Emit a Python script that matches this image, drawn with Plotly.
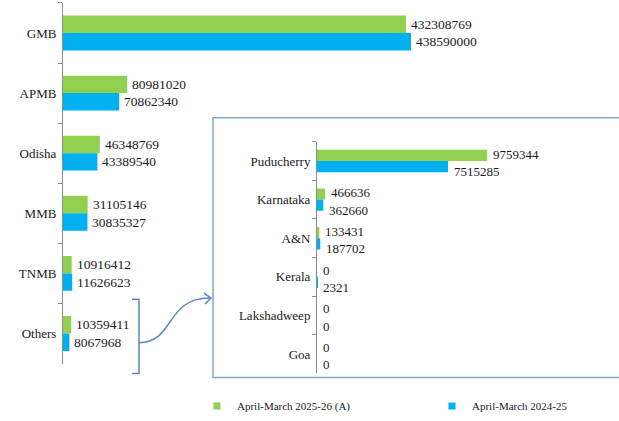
import plotly.graph_objects as go

# main chart data
ports = ["GMB", "APMB", "Odisha", "MMB", "TNMB", "Others"]
cur_year = [432308769, 80981020, 46348769, 31105146, 10916412, 10359411]
prev_year = [438590000, 70862340, 43389540, 30835327, 11626623, 8067968]

# breakdown of "Others"
others = ["Puducherry", "Karnataka", "A&N", "Kerala", "Lakshadweep", "Goa"]
others_cur = [9759344, 466636, 133431, 0, 0, 0]
others_prev = [7515285, 362660, 187702, 2321, 0, 0]

series_names = ["April-March 2025-26 (A)", "April-March 2024-25"]
GREEN = "#92D050"
BLUE = "#00B0F0"
FONT = "Liberation Serif, Times New Roman, Times, serif"
TXT = "#1a1a1a"

W, H = 619, 421
BARGAP = 0.42
# centre of each bar inside its category (two bars per group)
OFF = (1 - BARGAP) / 4


def px(x):
    return x / W


def py(y):
    return 1 - y / H


fig = go.Figure()

# main bars
fig.add_trace(go.Bar(
    y=ports, x=cur_year, orientation="h", name=series_names[0],
    marker=dict(color=GREEN, line=dict(width=0)), showlegend=False,
    xaxis="x", yaxis="y",
))
fig.add_trace(go.Bar(
    y=ports, x=prev_year, orientation="h", name=series_names[1],
    marker=dict(color=BLUE, line=dict(width=0)), showlegend=False,
    xaxis="x", yaxis="y",
))

# inset bars
fig.add_trace(go.Bar(
    y=others, x=others_cur, orientation="h", name=series_names[0],
    marker=dict(color=GREEN, line=dict(width=0)), showlegend=False,
    xaxis="x2", yaxis="y2",
))
fig.add_trace(go.Bar(
    y=others, x=others_prev, orientation="h", name=series_names[1],
    marker=dict(color=BLUE, line=dict(width=0)), showlegend=False,
    xaxis="x2", yaxis="y2",
))

# legend entries with small square keys
for name, color, leg in ((series_names[0], GREEN, "legend"),
                         (series_names[1], BLUE, "legend2")):
    fig.add_trace(go.Scatter(
        x=[None], y=[None], mode="markers", name=name, legend=leg,
        marker=dict(symbol="square", size=7, color=color),
        xaxis="x", yaxis="y",
    ))

# data labels
for i, (a, b) in enumerate(zip(cur_year, prev_year)):
    for v, off in ((a, -OFF), (b, OFF)):
        fig.add_annotation(x=v, y=i + off, xref="x", yref="y", text=str(v),
                           xanchor="left", yanchor="middle", showarrow=False,
                           xshift=3, font=dict(family=FONT, size=13.5, color=TXT))
for i, (a, b) in enumerate(zip(others_cur, others_prev)):
    for v, off, ys in ((a, -OFF, 1), (b, OFF, -5)):
        fig.add_annotation(x=v, y=i + off, xref="x2", yref="y2", text=str(v),
                           xanchor="left", yanchor="middle", showarrow=False,
                           xshift=4, yshift=ys,
                           font=dict(family=FONT, size=13, color=TXT))

axis_common = dict(
    showline=True, linecolor="#8c8c8c", linewidth=1,
    ticks="outside", ticklen=4, tickcolor="#8c8c8c",
    tickson="boundaries", showgrid=False, autorange="reversed",
    automargin=False, ticklabelstandoff=3,
    tickfont=dict(family=FONT, size=13, color=TXT),
)

legend_common = dict(orientation="h", yanchor="middle", xanchor="left",
                     font=dict(family=FONT, size=11, color=TXT),
                     bgcolor="rgba(0,0,0,0)", itemwidth=30)

fig.update_layout(
    width=W, height=H,
    template="none",
    margin=dict(l=0, r=0, t=0, b=0),
    paper_bgcolor="white", plot_bgcolor="rgba(0,0,0,0)",
    barmode="group", bargap=BARGAP, bargroupgap=0,
    font=dict(family=FONT, color=TXT),
    xaxis=dict(domain=[px(63), 1], range=[0, 700.8e6], visible=False,
               automargin=False),
    yaxis=dict(domain=[py(367), py(3)], anchor="x", **axis_common),
    xaxis2=dict(domain=[px(317), px(610)], range=[0, 16.8e6], visible=False,
                anchor="y2", automargin=False),
    yaxis2=dict(domain=[py(377), py(143)], anchor="x2", **axis_common),
    legend=dict(x=px(197), y=py(410), **legend_common),
    legend2=dict(x=px(432), y=py(410), **legend_common),
    showlegend=True,
)

# inset frame
LINE = "#5f86bb"
fig.add_shape(type="rect", xref="paper", yref="paper",
              x0=px(213), x1=px(640), y0=py(381), y1=py(119),
              line=dict(color="#8aa5c6", width=1.5), layer="below")

# bracket around "Others" and connector arrow
bracket = "M {} {} L {} {} L {} {} L {} {}".format(
    px(132), py(302), px(139), py(302), px(139), py(377), px(132), py(377))
fig.add_shape(type="path", xref="paper", yref="paper", path=bracket,
              line=dict(color=LINE, width=1.5))
curve = "M {} {} C {} {} {} {} {} {}".format(
    px(139), py(346), px(175), py(346), px(165), py(300), px(211), py(301))
fig.add_shape(type="path", xref="paper", yref="paper", path=curve,
              line=dict(color=LINE, width=1.5))
head = "M {} {} L {} {} L {} {}".format(
    px(204), py(296), px(211), py(301), px(205), py(307))
fig.add_shape(type="path", xref="paper", yref="paper", path=head,
              line=dict(color=LINE, width=1.5))

# page body margin would shift the 619x421 figure off the window
fig.write_html("out.html",
               config={"displayModeBar": False},
               post_script="document.body.style.margin='0';"
                           "document.documentElement.style.overflow='hidden';")
